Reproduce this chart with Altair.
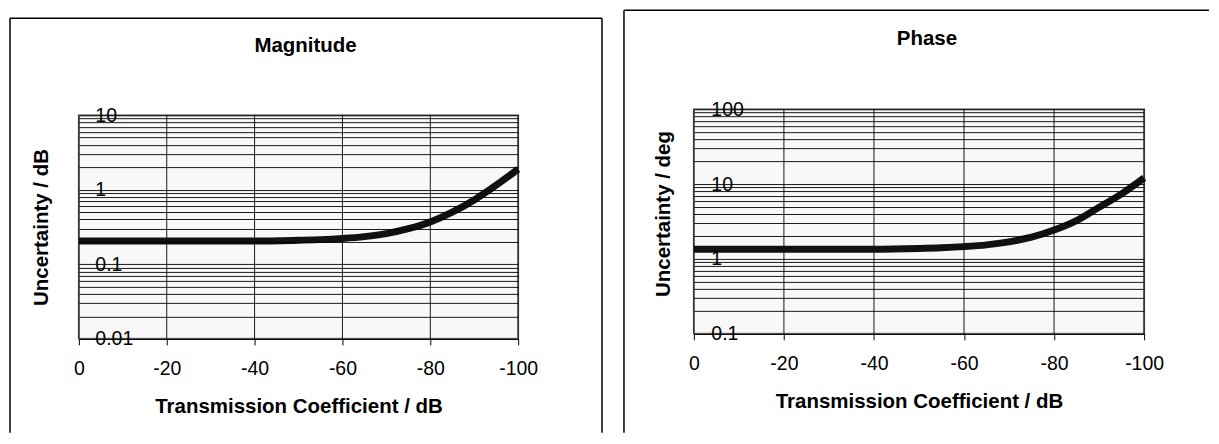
import altair as alt
import pandas as pd

# ---- data ----
x_db = [0, -10, -20, -30, -40, -50, -55, -60, -65, -70, -75, -80, -85, -90, -95, -100]
mag_unc = [0.205, 0.205, 0.205, 0.205, 0.205, 0.21, 0.214, 0.222, 0.235, 0.258, 0.30, 0.37, 0.50, 0.73, 1.15, 1.89]
phase_unc = [1.35, 1.35, 1.35, 1.35, 1.35, 1.38, 1.41, 1.46, 1.54, 1.69, 1.95, 2.43, 3.25, 4.9, 7.4, 12.1]

x_ticks = [0, -20, -40, -60, -80, -100]
mag_decades = [0.01, 0.1, 1, 10]
mag_labels = ["0.01", "0.1", "1", "10"]
phase_decades = [0.1, 1, 10, 100]
phase_labels = ["0.1", "1", "10", "100"]
grid_mults = [1, 2, 3, 4, 5, 6, 7, 8, 9]

FONT = "Liberation Sans"

df_mag = pd.DataFrame({"x": x_db, "u": mag_unc})
df_pha = pd.DataFrame({"x": x_db, "u": phase_unc})
df_xt = pd.DataFrame({"x": x_ticks})


def label_expr(decs, labels):
    expr = "''"
    for d, l in reversed(list(zip(decs, labels))):
        expr = f"datum.value == {d} ? '{l}' : ({expr})"
    return expr


def panel(df, ytitle, ttl, decs, dlabels, W, H, ytop, box, ttl_xy, lab_pad, ttl_pad, ttl_y):
    grid_vals = sorted({round(d * m, 6) for d in decs[:-1] for m in grid_mults} | {decs[-1]})
    yaxis = alt.Axis(
        values=grid_vals, grid=True, gridColor="#000000", gridWidth=1, gridOpacity=0.9,
        ticks=False, domain=False, labelExpr=label_expr(decs, dlabels),
        labelAlign="left", labelBaseline="middle", labelPadding=lab_pad,
        labelFont=FONT, labelFontSize=19.5, labelColor="#000000",
        labelOverlap=False, labelFlush=False, minExtent=0, zindex=1,
        title=ytitle, titleFont=FONT, titleFontSize=20.5, titleFontWeight="bold",
        titleColor="#000000", titlePadding=ttl_pad, titleY=ttl_y,
    )
    xaxis = alt.Axis(
        values=x_ticks, grid=False, labelExpr="'' + datum.value",
        ticks=True, tickSize=6, tickColor="#000000", domain=True, domainColor="#000000",
        labelFont=FONT, labelFontSize=19.5, labelColor="#000000", labelPadding=15,
        labelFlush=False, labelOverlap=False, zindex=1,
        title="Transmission Coefficient / dB", titleFont=FONT, titleFontSize=20.5,
        titleFontWeight="bold", titleColor="#000000", titlePadding=18,
    )
    xscale = alt.Scale(domain=[-100, 0], reverse=True, nice=False)
    one = alt.Data(values=[{}])
    bg = alt.Chart(one).mark_rect(fill="#f8f8f8", stroke="#808080", strokeWidth=2).encode(
        x=alt.value(0), x2=alt.value(W), y=alt.value(ytop), y2=alt.value(H))
    vgrid = alt.Chart(df_xt).mark_rule(color="#000000", strokeWidth=1, opacity=0.9).encode(
        x=alt.X("x:Q", scale=xscale, axis=xaxis), y=alt.value(ytop), y2=alt.value(H))
    line = alt.Chart(df).mark_line(color="#111111", strokeWidth=7, interpolate="monotone").encode(
        x=alt.X("x:Q", scale=xscale, axis=xaxis),
        y=alt.Y("u:Q", scale=alt.Scale(type="log", domain=[decs[0], decs[-1]], nice=False,
                                       range=[H, ytop]), axis=yaxis),
    )
    bl, bt, br, bb, inv, right_side = box
    layers = [bg, vgrid, line]
    layers.append(alt.Chart(one).mark_rule(color="#000000", strokeWidth=1.5).encode(
        x=alt.value(bl), x2=alt.value(br), y=alt.value(bt)))
    layers.append(alt.Chart(one).mark_rule(color="#000000", strokeWidth=1.5).encode(
        x=alt.value(bl), y=alt.value(bt), y2=alt.value(bb)))
    if right_side:
        layers.append(alt.Chart(one).mark_rule(color="#000000", strokeWidth=1.5).encode(
            x=alt.value(br), y=alt.value(bt), y2=alt.value(bb)))
    layers.append(alt.Chart(one).mark_rule(color="#ffffff", strokeWidth=1, opacity=0).encode(
        x=alt.value(0), x2=alt.value(2), y=alt.value(inv)))
    layers.append(alt.Chart(one).mark_text(
        font=FONT, fontSize=20.5, fontWeight="bold", align="center", baseline="alphabetic",
        color="#000000").encode(x=alt.value(ttl_xy[0]), y=alt.value(ttl_xy[1]), text=alt.value(ttl)))
    return alt.layer(*layers).properties(
        width=W, height=H, view=alt.ViewBackground(fill="transparent", stroke="transparent"))


left = panel(df_mag, "Uncertainty / dB", "Magnitude", mag_decades, mag_labels,
             440, 230, 6, (-69, -91, 524, 324, -100, True), (227, -57.3), -16, 27, 118)
right = panel(df_pha, "Uncertainty / deg", "Phase", phase_decades, phase_labels,
              451, 225, 0, (-70, -99, 516, 324, -100, False), (233.5, -64.7), -17, 20, 104.5)

chart = alt.hconcat(left, right, spacing=18).properties(padding=0).configure_view(
    fill="transparent", stroke="transparent")

chart.save("out.html", embed_options={"renderer": "svg", "actions": False})
